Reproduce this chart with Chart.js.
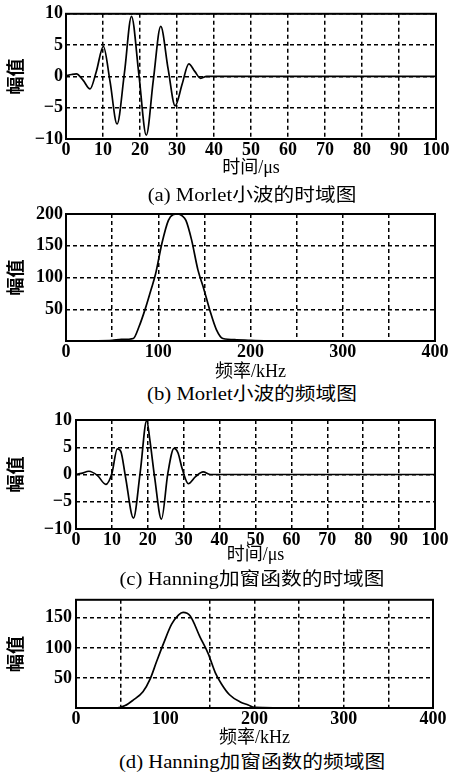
<!DOCTYPE html>
<html>
<head>
<meta charset="utf-8">
<script src="https://cdn.jsdelivr.net/npm/chart.js@4.4.0/dist/chart.umd.min.js"></script>
<style>
body{margin:0;background:#fff}
#page{position:relative;width:454px;height:776px;overflow:hidden}
canvas{position:absolute;left:0}
.cap{position:absolute;left:252px;white-space:nowrap;font:18px 'Liberation Serif','Noto Sans CJK SC',serif;line-height:20px;color:#000;transform:translateX(-50%) scaleX(1.15)}
</style>
</head>
<body>
<div id="page">
<canvas id="ca" width="454" height="179" style="top:0px"></canvas>
<canvas id="cb" width="454" height="183" style="top:200px"></canvas>
<canvas id="cc" width="454" height="161" style="top:405px"></canvas>
<canvas id="cd" width="454" height="164" style="top:585px"></canvas>
<div class="cap" id="capA" style="top:185px"></div>
<div class="cap" id="capB" style="top:384px"></div>
<div class="cap" id="capC" style="top:569px"></div>
<div class="cap" id="capD" style="top:752px"></div>
</div>
<script>
// (a) Morlet wavelet, time domain
var timeA = [0, 1.5, 2.8, 4.6, 6.5, 8.2, 10.1, 11.9, 13.8, 15.8, 17.7, 19.7, 21.7, 23.6, 25.6, 27.6, 29.5, 31.4, 33.2, 34.8, 36.4, 38, 40, 100];
var ampA  = [0.1, 0.3, 0.4, -0.6, -2.0, 0.8, 4.8, -0.8, -7.6, 0.6, 9.6, 0.3, -9.4, -0.6, 8.0, 1.2, -4.7, -1.2, 2.0, 0.8, -0.3, 0, 0, 0];
// (b) Morlet wavelet, frequency domain
var freqB = [0, 30, 50, 60, 73, 79, 86, 92, 97, 104, 111, 116, 121, 126, 130, 136, 143, 149, 156, 163, 170, 185, 200, 215, 250, 300, 350, 400];
var magB  = [0, 0.3, 1, 2.5, 4, 22, 51, 80, 105, 154, 190, 199, 200, 197, 190, 160, 112, 84, 48, 18, 4, 2, 1, 0.3, 0, 0, 0, 0];
// (c) Hanning windowed signal, time domain
var timeC = [0, 1.5, 3.6, 6.0, 8.3, 10.0, 11.5, 12.5, 13.8, 16.0, 17.9, 19.7, 20.6, 21.9, 23.8, 25.6, 27.3, 28.4, 29.6, 31.3, 33.3, 35.4, 37.5, 40, 100];
var ampC  = [0, 0.2, 0.6, -0.2, -1.8, 0.2, 4.7, 4.2, -0.5, -8.0, 0.5, 9.9, 6.2, -0.5, -8.2, 0.3, 4.8, 4.0, 1.0, -1.7, -0.4, 0.5, 0, 0, 0];
// (d) Hanning windowed signal, frequency domain
var freqD = [0, 45, 55, 64, 75, 83, 90, 98, 107, 115, 120, 128, 139, 148, 156, 163, 172, 184, 193, 200, 250, 300, 350, 400];
var magD  = [0, 0, 4, 13, 27, 48, 76, 107, 139, 155, 159, 153, 118, 91, 59, 40, 22, 10, 5, 1, 0, 0, 0, 0];

// ticks
var timeTicks  = [0, 10, 20, 30, 40, 50, 60, 70, 80, 90, 100];
var ampTicks   = [-10, -5, 0, 5, 10];
var freqGrid   = [0, 50, 100, 150, 200, 250, 300, 350, 400];
var freqLabels = [0, 100, 200, 300, 400];
var magTicksB  = [0, 50, 100, 150, 200];
var magTicksD  = [0, 50, 100, 150];
var magLabels  = [50, 100, 150, 200];

var yTitle = '幅值';
var timeTitle = '时间/μs';
var freqTitle = '频率/kHz';
var captions = ['(a) Morlet小波的时域图', '(b) Morlet小波的频域图', '(c) Hanning加窗函数的时域图', '(d) Hanning加窗函数的频域图'];

document.getElementById('capA').textContent = captions[0];
document.getElementById('capB').textContent = captions[1];
document.getElementById('capC').textContent = captions[2];
document.getElementById('capD').textContent = captions[3];

var serif = "'Liberation Serif', 'Noto Sans CJK SC', serif";

// box round the plot
var frame = {
    id: 'frame',
    afterDatasetsDraw: function(chart){
        var a = chart.chartArea, c = chart.ctx;
        c.save();
        c.strokeStyle = '#000';
        c.lineWidth = 2;
        c.strokeRect(a.left, a.top, a.right - a.left, a.bottom - a.top);
        c.restore();
    }
};

function panel(o){
    var pts = o.xs.map(function(x, i){ return {x: x, y: o.ys[i]}; });
    var hide = o.hideGrid || [];
    return new Chart(document.getElementById(o.id), {
        type: 'line',
        data: {
            datasets: [{
                data: pts,
                borderColor: '#000',
                borderWidth: 1.7,
                pointRadius: 0,
                fill: false,
                cubicInterpolationMode: 'monotone'
            }]
        },
        options: {
            responsive: false,
            animation: false,
            events: [],
            layout: { padding: { left: 0, right: o.right, top: o.top, bottom: 0 } },
            plugins: { legend: { display: false }, tooltip: { enabled: false } },
            scales: {
                x: {
                    type: 'linear',
                    min: o.xMin, max: o.xMax,
                    afterBuildTicks: function(s){ s.ticks = o.xTicks.map(function(v){ return {value: v}; }); },
                    afterFit: function(s){ s.height = o.xH; },
                    ticks: {
                        autoSkip: false, maxRotation: 0, padding: 1, color: '#000',
                        font: { family: serif, size: 18, weight: 'bold' },
                        callback: function(v){ return o.xLabels.indexOf(v) >= 0 ? String(v) : ''; }
                    },
                    grid: {
                        drawTicks: false, lineWidth: 1.5,
                        color: function(ctx){ return (ctx.tick && hide.indexOf(ctx.tick.value) >= 0) ? 'rgba(0,0,0,0)' : '#000'; }
                    },
                    border: { display: false, dash: [4, 3] },
                    title: { display: true, text: o.xTitle, color: '#000', font: { family: serif, size: 18 }, padding: { top: 0, bottom: 0 } }
                },
                y: {
                    min: o.yMin, max: o.yMax,
                    afterBuildTicks: function(s){ s.ticks = o.yTicks.map(function(v){ return {value: v}; }); },
                    afterFit: function(s){ s.width = o.left; },
                    ticks: {
                        autoSkip: false, padding: o.yPad, color: '#000',
                        font: { family: serif, size: 18, weight: 'bold' },
                        callback: function(v){ return o.yLabels.indexOf(v) >= 0 ? String(v).replace('-', '\u2212') : ''; }
                    },
                    grid: { drawTicks: false, lineWidth: 1.5, color: '#000' },
                    border: { display: false, dash: [4, 3] },
                    title: { display: true, text: yTitle, color: '#000', font: { family: serif, size: 18, weight: 'bold' }, padding: { top: 7, bottom: 0 } }
                }
            }
        },
        plugins: [frame]
    });
}

panel({ id: 'ca', xs: timeA, ys: ampA, left: 66, right: 18, top: 13, xH: 40, yPad: 3,
    xMin: 0, xMax: 100, xTicks: timeTicks, xLabels: timeTicks, xTitle: timeTitle,
    yMin: -10, yMax: 10, yTicks: ampTicks, yLabels: ampTicks });
panel({ id: 'cb', xs: freqB, ys: magB, left: 66, right: 19, top: 14, xH: 42, yPad: 3,
    xMin: 0, xMax: 400, xTicks: freqGrid, xLabels: freqLabels, xTitle: freqTitle,
    yMin: 0, yMax: 200, yTicks: magTicksB, yLabels: magLabels });
panel({ id: 'cc', xs: timeC, ys: ampC, left: 76, right: 19, top: 15, xH: 37, yPad: 4,
    xMin: 0, xMax: 100, xTicks: timeTicks, xLabels: timeTicks, xTitle: timeTitle,
    yMin: -10, yMax: 10, yTicks: ampTicks, yLabels: ampTicks });
panel({ id: 'cd', xs: freqD, ys: magD, left: 76, right: 21, top: 12, xH: 41, yPad: 4,
    xMin: 0, xMax: 400, xTicks: freqGrid, xLabels: freqLabels, xTitle: freqTitle,
    yMin: 0, yMax: 180, yTicks: magTicksD, yLabels: magLabels, hideGrid: [100] });
</script>
</body>
</html>
